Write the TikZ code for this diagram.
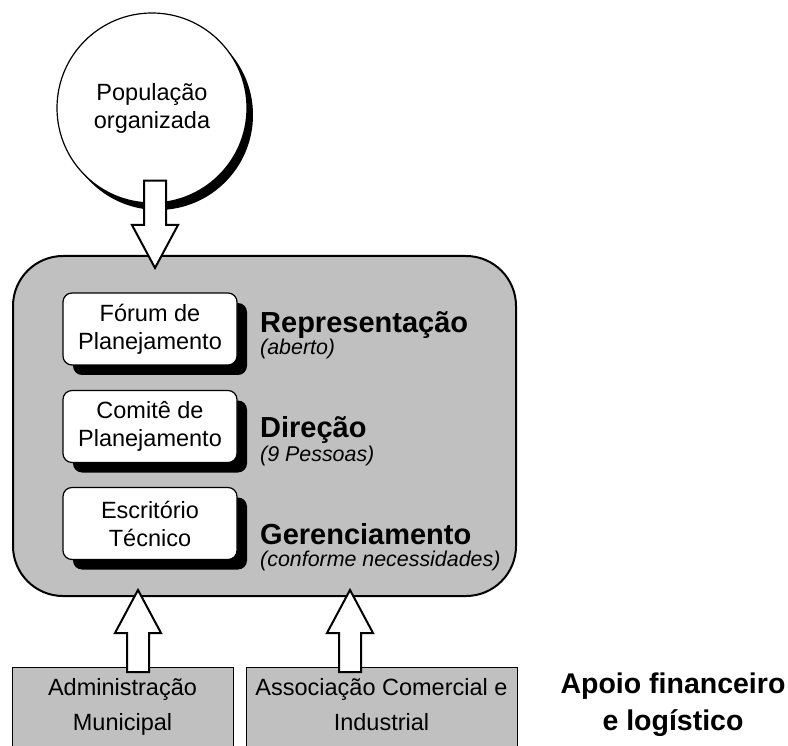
\documentclass[tikz,border=0pt]{standalone}
\usepackage{fontspec}
\setmainfont{Liberation Sans}
\usepackage{xcolor}
\usetikzlibrary{shadows,calc}

\definecolor{painel}{RGB}{192,192,192}

\tikzset{
  txt/.style = {font = \fontsize{23.5}{28}\selectfont, align = center},
  popcircle/.style = {circle, draw, fill = white, line width = 1.2pt,
    minimum size = 190pt, inner sep = 0pt, txt,
    drop shadow = {shadow xshift = 6pt, shadow yshift = -7pt,
      fill = black, opacity = 1}},
  panel/.style = {rectangle, draw, fill = painel, rounded corners = 50pt,
    line width = 2pt, minimum width = 503pt, minimum height = 340pt},
  planbox/.style = {rectangle, draw, fill = white, rounded corners = 9pt,
    line width = 1.2pt, minimum width = 174pt, minimum height = 72pt, txt,
    drop shadow = {shadow xshift = 10pt, shadow yshift = -10pt,
      fill = black, opacity = 1}},
  titulo/.style = {font = \bfseries\fontsize{29}{34}\selectfont,
    inner sep = 0pt, anchor = base west},
  nota/.style = {font = \itshape\fontsize{21.4}{25}\selectfont,
    inner sep = 0pt, anchor = base west},
  basebox/.style = {rectangle, draw, fill = painel, line width = 0.8pt,
    minimum width = 221pt, minimum height = 100pt, anchor = north},
  fat/.style = {draw, fill = white, line width = 2pt, line join = miter}
}

% hollow block arrow from #1 (tail) to #2 (tip), vertical
\newcommand{\fatarrow}[2]{%
  \draw[fat] let \p1 = (#1), \p2 = (#2), \p3 = ($(#2)!43pt!(#1)$) in
    (\p2) -- (\x2+23pt,\y3) -- (\x2+11pt,\y3) -- (\x2+11pt,\y1)
    -- (\x2-11pt,\y1) -- (\x2-11pt,\y3) -- (\x2-23pt,\y3) -- cycle;}

\begin{document}
\begin{tikzpicture}[x = 1pt, y = -1pt]
  \useasboundingbox (0,0) rectangle (788,746);

  \node[popcircle] (pop) at (152,108) {População\\organizada};

  \node[panel, anchor = north west] (orgao) at (12,255) {};

  \node[planbox] (forum) at (150,329) {Fórum de\\Planejamento};
  \node[planbox] (comite) at (150,426.5) {Comitê de\\Planejamento};
  \node[planbox] (escritorio) at (150,523.5) {Escritório\\Técnico};

  \node[titulo] (repr) at (260,333) {Representação};
  \node[nota] (reprnota) at (260,355) {(aberto)};
  \node[titulo] (dir) at (260,437) {Direção};
  \node[nota] (dirnota) at (260,461) {(9 Pessoas)};
  \node[titulo] (ger) at (260,544) {Gerenciamento};
  \node[nota] (gernota) at (260,566) {(conforme necessidades)};

  \node[basebox] (adm) at (122.5,667) {};
  \node[basebox, minimum width = 271pt] (assoc) at (381.5,667) {};
  \node[txt, font = \fontsize{23.5}{35}\selectfont, anchor = base]
    (admtxt) at (122.5,730) {Administração\\Municipal};
  \node[txt, font = \fontsize{23.5}{35}\selectfont, anchor = base]
    (assoctxt) at (381.5,730) {Associação Comercial e\\Industrial};

  \node[txt, font = \bfseries\fontsize{28.5}{37}\selectfont, anchor = base]
    (apoio) at (673,730) {Apoio financeiro\\e logístico};

  \fatarrow{$(pop.south)+(3,-23)$}{$(orgao.north west)+(143,13)$}
  \fatarrow{$(adm.north)+(15.5,5)$}{$(orgao.south west)+(126,-7)$}
  \fatarrow{$(assoc.north)+(-31.5,5)$}{$(orgao.south west)+(338,-7)$}
\end{tikzpicture}
\end{document}
